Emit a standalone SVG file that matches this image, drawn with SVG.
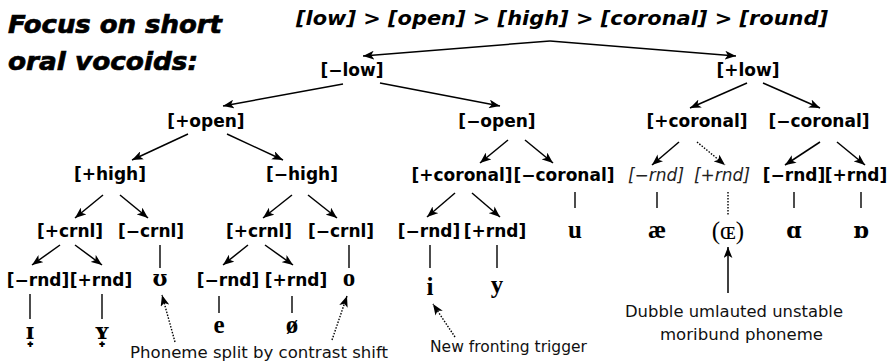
<svg xmlns="http://www.w3.org/2000/svg" width="892" height="363" viewBox="0 0 892 363">
  <style>
    .title { font-family: "DejaVu Sans", "Liberation Sans", sans-serif; font-weight: bold; font-style: italic; font-size: 25px; fill: #000; stroke: #000; stroke-width: 0.7; }
    .head { font-family: "DejaVu Sans", "Liberation Sans", sans-serif; font-weight: bold; font-style: italic; font-size: 19px; fill: #000; }
    .feat { font-family: "DejaVu Sans", "Liberation Sans", sans-serif; font-weight: bold; font-size: 17px; fill: #000; text-anchor: middle; }
    .feat-i { font-family: "DejaVu Sans", "Liberation Sans", sans-serif; font-style: italic; font-size: 17px; fill: #222; text-anchor: middle; }
    .ipa { font-family: "Liberation Serif", "DejaVu Serif", serif; font-weight: bold; font-size: 25px; fill: #000; text-anchor: middle; }
    .ipa-x { font-family: "DejaVu Serif", "Liberation Serif", serif; font-weight: bold; font-size: 22px; fill: #000; text-anchor: middle; }
    .ipa-r { font-family: "Liberation Serif", "DejaVu Serif", serif; font-size: 25px; fill: #000; text-anchor: middle; }
    .note { font-family: "DejaVu Sans", "Liberation Sans", sans-serif; font-size: 15px; fill: #111; }
    .edge { stroke: #000; stroke-width: 1.5; fill: none; }
    .arr { marker-end: url(#ah); }
    .dot { stroke-dasharray: 1.5 1.5; stroke-width: 1.4; }
    .tie { stroke: #000; stroke-width: 1.4; fill: none; }
  </style>
  <defs>
    <marker id="ah" viewBox="0 0 10 8" refX="10" refY="4" markerWidth="11" markerHeight="9" markerUnits="userSpaceOnUse" orient="auto">
      <path d="M0,0 L10,4 L0,8 L2.5,4 z" fill="#000"/>
    </marker>
  </defs>

  <rect width="892" height="363" fill="#fff"/>

  <!-- headings -->
  <g id="title">
    <text class="title" x="8" y="33" textLength="214" lengthAdjust="spacingAndGlyphs">Focus on short</text>
    <text class="title" x="8" y="70" textLength="190" lengthAdjust="spacingAndGlyphs">oral vocoids:</text>
  </g>
  <g id="hierarchy">
    <text class="head" x="296" y="25" textLength="532" lengthAdjust="spacingAndGlyphs">[low] &gt; [open] &gt; [high] &gt; [coronal] &gt; [round]</text>
  </g>

  <!-- connectors -->
  <g id="connectors">
    <line class="edge arr" x1="550" y1="41" x2="363" y2="56"/>
    <line class="edge arr" x1="550" y1="41" x2="736" y2="56"/>

    <line class="edge arr" x1="343" y1="84" x2="223" y2="106"/>
    <line class="edge arr" x1="380" y1="83" x2="500" y2="106"/>
    <line class="edge arr" x1="747" y1="83" x2="690" y2="108"/>
    <line class="edge arr" x1="763" y1="83" x2="820" y2="108"/>

    <line class="edge arr" x1="188" y1="134" x2="132" y2="160"/>
    <line class="edge arr" x1="227" y1="134" x2="283" y2="160"/>
    <line class="edge arr" x1="508" y1="140" x2="480" y2="163"/>
    <line class="edge arr" x1="525" y1="140" x2="553" y2="163"/>
    <line class="edge arr" x1="679" y1="142" x2="652" y2="165"/>
    <line class="edge arr dot" x1="697" y1="142" x2="725" y2="165"/>
    <line class="edge arr" x1="820" y1="142" x2="785" y2="165"/>
    <line class="edge arr" x1="837" y1="142" x2="865" y2="165"/>

    <line class="edge arr" x1="103" y1="195" x2="75" y2="218"/>
    <line class="edge arr" x1="120" y1="195" x2="148" y2="218"/>
    <line class="edge arr" x1="292" y1="195" x2="263" y2="218"/>
    <line class="edge arr" x1="308" y1="195" x2="337" y2="218"/>
    <line class="edge arr" x1="455" y1="193" x2="427" y2="217"/>
    <line class="edge arr" x1="472" y1="193" x2="500" y2="217"/>

    <line class="tie" x1="575" y1="192" x2="575" y2="208"/>
    <line class="tie" x1="657" y1="192" x2="657" y2="208"/>
    <line class="tie dot" x1="728" y1="192" x2="728" y2="215"/>
    <line class="tie" x1="794" y1="192" x2="794" y2="208"/>
    <line class="tie" x1="861" y1="192" x2="861" y2="208"/>

    <line class="edge arr" x1="60" y1="245" x2="32" y2="265"/>
    <line class="edge arr" x1="75" y1="245" x2="102" y2="265"/>
    <line class="tie" x1="160" y1="245" x2="160" y2="268"/>
    <line class="edge arr" x1="248" y1="245" x2="223" y2="265"/>
    <line class="edge arr" x1="265" y1="245" x2="293" y2="265"/>
    <line class="tie" x1="349" y1="245" x2="349" y2="268"/>
    <line class="tie" x1="430" y1="245" x2="430" y2="268"/>
    <line class="tie" x1="497" y1="245" x2="497" y2="268"/>

    <line class="tie" x1="30" y1="294" x2="30" y2="319"/>
    <line class="tie" x1="102" y1="294" x2="102" y2="319"/>
    <line class="tie" x1="219" y1="296" x2="219" y2="313"/>
    <line class="tie" x1="292" y1="296" x2="292" y2="313"/>

    <line class="edge arr dot" x1="175" y1="342" x2="162" y2="295"/>
    <line class="edge arr dot" x1="332" y1="340" x2="347" y2="296"/>
    <line class="edge arr dot" x1="455" y1="337" x2="433" y2="304"/>
    <line class="edge arr" x1="728" y1="293" x2="728" y2="247"/>
  </g>

  <!-- feature nodes -->
  <g id="n-minus-low"><text class="feat" x="352" y="76">[−low]</text></g>
  <g id="n-plus-low"><text class="feat" x="748" y="76">[+low]</text></g>

  <g id="n-plus-open"><text class="feat" x="206" y="127">[+open]</text></g>
  <g id="n-minus-open"><text class="feat" x="497" y="127">[−open]</text></g>
  <g id="n-low-plus-cor"><text class="feat" x="697" y="127">[+coronal]</text></g>
  <g id="n-low-minus-cor"><text class="feat" x="819" y="127">[−coronal]</text></g>

  <g id="n-plus-high"><text class="feat" x="110" y="180">[+high]</text></g>
  <g id="n-minus-high"><text class="feat" x="302" y="180">[−high]</text></g>
  <g id="n-open-plus-cor"><text class="feat" x="462" y="181">[+coronal]</text></g>
  <g id="n-open-minus-cor"><text class="feat" x="564" y="181">[−coronal]</text></g>
  <g id="n-low-minus-rnd"><text class="feat-i" x="656" y="181">[−rnd]</text></g>
  <g id="n-low-plus-rnd"><text class="feat-i" x="722" y="181">[+rnd]</text></g>
  <g id="n-back-minus-rnd"><text class="feat" x="794" y="181">[−rnd]</text></g>
  <g id="n-back-plus-rnd"><text class="feat" x="856" y="181">[+rnd]</text></g>

  <g id="n-high-plus-crnl"><text class="feat" x="70" y="237">[+crnl]</text></g>
  <g id="n-high-minus-crnl"><text class="feat" x="151" y="237">[−crnl]</text></g>
  <g id="n-mid-plus-crnl"><text class="feat" x="259" y="237">[+crnl]</text></g>
  <g id="n-mid-minus-crnl"><text class="feat" x="341" y="237">[−crnl]</text></g>
  <g id="n-front-minus-rnd"><text class="feat" x="429" y="237">[−rnd]</text></g>
  <g id="n-front-plus-rnd"><text class="feat" x="495" y="237">[+rnd]</text></g>

  <g id="n-hi-minus-rnd"><text class="feat" x="38" y="286">[−rnd]</text></g>
  <g id="n-hi-plus-rnd"><text class="feat" x="101" y="286">[+rnd]</text></g>
  <g id="n-mid-minus-rnd"><text class="feat" x="228" y="286">[−rnd]</text></g>
  <g id="n-mid-plus-rnd"><text class="feat" x="296" y="286">[+rnd]</text></g>

  <!-- vowel symbols -->
  <g id="v-u"><text class="ipa" x="575" y="238">u</text></g>
  <g id="v-ae"><text class="ipa" x="657" y="238">æ</text></g>
  <g id="v-oe"><text class="ipa-r" x="728" y="239">(ɶ)</text></g>
  <g id="v-alpha"><text class="ipa-x" x="794" y="238">ɑ</text></g>
  <g id="v-turned-alpha"><text class="ipa-x" x="861" y="238">ɒ</text></g>

  <g id="v-upsilon"><text class="ipa-x" x="160" y="286">ʊ</text></g>
  <g id="v-o"><text class="ipa" x="349" y="286">o</text></g>
  <g id="v-i"><text class="ipa" x="430" y="295">i</text></g>
  <g id="v-y"><text class="ipa" x="497" y="293">y</text></g>

  <g id="v-small-i"><text class="ipa-x" x="30" y="339">ɪ̟</text></g>
  <g id="v-small-y"><text class="ipa-x" x="102" y="339">ʏ̟</text></g>
  <g id="v-e"><text class="ipa" x="219" y="333">e</text></g>
  <g id="v-oslash"><text class="ipa" x="292" y="333">ø</text></g>

  <!-- annotations -->
  <g id="note-split"><text class="note" x="130" y="358" textLength="258" lengthAdjust="spacingAndGlyphs">Phoneme split by contrast shift</text></g>
  <g id="note-trigger"><text class="note" x="430" y="352" textLength="157" lengthAdjust="spacingAndGlyphs">New fronting trigger</text></g>
  <g id="note-umlaut">
    <text class="note" x="625" y="317" textLength="218" lengthAdjust="spacingAndGlyphs">Dubble umlauted unstable</text>
    <text class="note" x="660" y="340" textLength="163" lengthAdjust="spacingAndGlyphs">moribund phoneme</text>
  </g>
</svg>
